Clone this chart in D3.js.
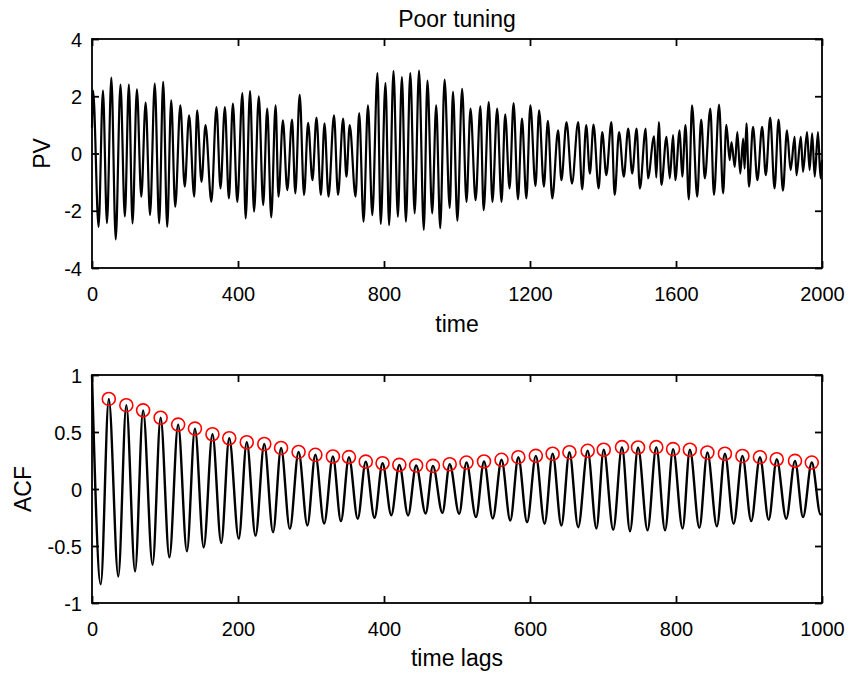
<!DOCTYPE html>
<html>
<head>
<meta charset="utf-8">
<script src="https://cdn.jsdelivr.net/npm/d3@7"></script>
<style>
  html, body { margin: 0; padding: 0; background: #fff; }
  svg { display: block; }
  text { font-family: "Liberation Sans", Arial, Helvetica, sans-serif; fill: #000; }
</style>
</head>
<body>
<svg id="chart" width="848" height="676"></svg>
<script>
// ---------- DATA ----------
const chartTitle = "Poor tuning";

// PV time series: successive local extrema (time, value)
const pvTimes = [0,3,18,30,41,53,65,78,90,101,111,123,135,147,159,172,184,195,206,217,228,242,254,266,280,288,300,311,327,341,352,364,375,386,398,412,421,433,444,457,469,480,491,503,511,523,535,548,557,569,581,592,604,615,627,637,648,663,674,688,697,706,722,732,744,756,768,782,791,804,814,826,838,849,860,872,884,896,909,919,932,943,954,966,980,989,1001,1014,1026,1037,1051,1064,1073,1087,1097,1110,1122,1132,1144,1155,1167,1178,1190,1201,1215,1225,1238,1249,1261,1277,1286,1300,1315,1332,1343,1354,1364,1374,1388,1398,1409,1423,1432,1444,1457,1469,1480,1492,1501,1517,1523,1540,1546,1553,1560,1574,1583,1592,1598,1610,1617,1626,1635,1644,1658,1669,1679,1694,1704,1718,1729,1738,1747,1752,1761,1768,1776,1784,1788,1793,1800,1811,1823,1836,1846,1858,1870,1881,1893,1904,1914,1925,1930,1942,1948,1959,1966,1973,1980,1989,1996,2000];
const pvValues = [0.9,2.2,-2.56,2.2,-2.43,2.65,-3.0,2.41,-2.2,2.41,-2.44,2.24,-1.51,1.78,-2.15,2.44,-2.44,2.5,-2.56,1.86,-1.86,1.68,-1.16,1.33,-1.51,1.51,-0.99,0.99,-1.69,1.62,-1.22,1.62,-1.57,1.74,-1.69,2.11,-2.27,2.18,-2.03,2.0,-1.8,1.57,-2.23,1.68,-1.51,1.16,-1.28,1.18,-1.39,2.05,-1.45,1.07,-0.93,1.25,-1.45,1.05,-1.51,1.33,-1.45,1.22,-0.81,0.99,-1.51,1.41,-2.38,1.68,-2.15,2.81,-2.46,2.46,-2.5,2.88,-2.21,2.67,-2.38,2.81,-2.09,2.9,-2.67,2.55,-2.09,1.68,-2.61,2.58,-1.9,2.15,-2.35,2.26,-1.69,1.57,-1.63,1.65,-1.98,1.8,-1.69,1.57,-1.69,1.37,-1.22,1.76,-1.6,1.22,-1.57,1.68,-1.14,1.51,-1.16,1.14,-1.57,0.81,-0.93,1.1,-1.05,1.1,-1.25,0.99,-0.7,1.01,-1.22,0.75,-0.76,1.1,-1.45,0.75,-0.81,0.87,-0.7,0.87,-1.22,0.87,-0.87,0.6,-0.84,1.1,-1.1,0.58,-0.87,0.64,-0.93,0.81,-0.81,0.99,-1.6,1.68,-1.51,1.18,-0.87,1.57,-1.45,1.71,-1.39,1.0,-0.23,0.4,-0.47,0.75,-0.7,0.52,-0.53,1.05,-1.16,0.93,-0.93,0.93,-0.76,1.25,-1.22,1.18,-1.3,0.81,-0.58,0.58,-0.76,0.58,-0.64,0.75,-0.58,0.7,-0.81,0.75,-0.87,-0.23];

// ACF: peaks (marked with red circles) and troughs
const acfPeakLags = [23,47,70,94,118,141,165,188,212,236,259,283,306,330,352,375,398,421,444,467,490,513,537,561,584,608,631,654,679,701,726,748,773,796,819,843,867,891,915,938,963,986];
const acfPeakValues = [0.79,0.735,0.69,0.625,0.565,0.53,0.48,0.445,0.41,0.395,0.36,0.325,0.30,0.285,0.28,0.24,0.226,0.212,0.206,0.203,0.217,0.232,0.241,0.256,0.279,0.291,0.309,0.323,0.335,0.344,0.367,0.364,0.367,0.35,0.344,0.32,0.309,0.29,0.279,0.261,0.247,0.232];
const acfTroughLags = [12,36,59,83,106,130,153,177,201,224,248,271,295,318,341,364,387,410,433,457,480,503,526,549,573,596,620,643,666,691,714,737,761,785,809,832,856,879,903,927,951,974,998];
const acfTroughValues = [-0.835,-0.767,-0.723,-0.664,-0.60,-0.547,-0.512,-0.473,-0.435,-0.409,-0.38,-0.35,-0.32,-0.303,-0.282,-0.262,-0.253,-0.23,-0.232,-0.215,-0.209,-0.218,-0.247,-0.259,-0.276,-0.291,-0.305,-0.32,-0.335,-0.347,-0.358,-0.37,-0.362,-0.362,-0.347,-0.341,-0.327,-0.305,-0.282,-0.27,-0.261,-0.247,-0.223];
const acfEnds = [[0, 1.0], [1000, -0.215]];

const pvTicksX = [0, 400, 800, 1200, 1600, 2000];
const pvTicksY = [-4, -2, 0, 2, 4];
const acfTicksX = [0, 200, 400, 600, 800, 1000];
const acfTicksY = [-1, -0.5, 0, 0.5, 1];

// ---------- DRAWING ----------
const svg = d3.select("#chart");
const L = 92, R = 822;

function panel(cfg) {
  const g = svg.append("g");
  const x = d3.scaleLinear().domain(cfg.xDomain).range([L, R]);
  const y = d3.scaleLinear().domain(cfg.yDomain).range([cfg.bottom, cfg.top]);
  const tickLen = 7;

  const fmt = d => String(d).replace("\u2212", "-");
  const ax = g.append("g").attr("transform", `translate(0,${cfg.bottom})`)
    .call(d3.axisBottom(x).tickValues(cfg.xTicks).tickSizeInner(-tickLen).tickSizeOuter(0).tickPadding(18).tickFormat(fmt));
  const axT = g.append("g").attr("transform", `translate(0,${cfg.top})`)
    .call(d3.axisTop(x).tickValues(cfg.xTicks).tickSizeInner(-tickLen).tickSizeOuter(0).tickFormat(""));
  const ay = g.append("g").attr("transform", `translate(${L},0)`)
    .call(d3.axisLeft(y).tickValues(cfg.yTicks).tickSizeInner(-tickLen).tickSizeOuter(0).tickPadding(10).tickFormat(fmt));
  const ayR = g.append("g").attr("transform", `translate(${R},0)`)
    .call(d3.axisRight(y).tickValues(cfg.yTicks).tickSizeInner(-tickLen).tickSizeOuter(0).tickFormat(""));

  [ax, axT, ay, ayR].forEach(a => {
    a.select(".domain").remove();
    a.selectAll("line").attr("stroke", "#000").attr("stroke-width", 1.8);
    a.selectAll("text").style("font-size", "20px").attr("fill", "#000")
      .style("font-family", '"Liberation Sans", Arial, sans-serif');
  });
  ax.selectAll("text").attr("dy", "0").attr("y", 33);
  ay.selectAll("text").attr("dy", "0.36em");

  g.append("path")
    .datum(cfg.points)
    .attr("fill", "none")
    .attr("stroke", "#000")
    .attr("stroke-width", cfg.lineWidth)
    .attr("stroke-linejoin", "round")
    .attr("d", d3.line().x(d => x(d[0])).y(d => y(d[1])).curve(d3.curveMonotoneX));

  if (cfg.markers) {
    g.selectAll("circle.mk").data(cfg.markers).join("circle")
      .attr("class", "mk")
      .attr("cx", d => x(d[0])).attr("cy", d => y(d[1]))
      .attr("r", 6.5)
      .attr("fill", "none").attr("stroke", "#ff0000").attr("stroke-width", 1.6);
  }

  g.append("rect").attr("x", L).attr("y", cfg.top)
    .attr("width", R - L).attr("height", cfg.bottom - cfg.top)
    .attr("fill", "none").attr("stroke", "#000").attr("stroke-width", 1.8);

  g.append("text").attr("x", (L + R) / 2).attr("y", cfg.xLabelY)
    .attr("text-anchor", "middle").style("font-size", "23px").text(cfg.xLabel);
  g.append("text").attr("transform", `translate(${cfg.yLabelX},${(cfg.top + cfg.bottom) / 2}) rotate(-90)`)
    .attr("text-anchor", "middle").style("font-size", "23px").text(cfg.yLabel);
  return { x, y };
}

const pvPoints = pvTimes.map((t, i) => [t, pvValues[i]]);
panel({
  xDomain: [0, 2000], yDomain: [-4, 4], top: 39, bottom: 268,
  xTicks: pvTicksX, yTicks: pvTicksY, lineWidth: 2.2,
  points: pvPoints, xLabel: "time", yLabel: "PV", xLabelY: 332, yLabelX: 50
});

const acfPoints = acfPeakLags.map((l, i) => [l, acfPeakValues[i]])
  .concat(acfTroughLags.map((l, i) => [l, acfTroughValues[i]]))
  .concat(acfEnds)
  .sort((a, b) => a[0] - b[0]);
panel({
  xDomain: [0, 1000], yDomain: [-1, 1], top: 375, bottom: 603,
  xTicks: acfTicksX, yTicks: acfTicksY, lineWidth: 2.4,
  points: acfPoints, markers: acfPeakLags.map((l, i) => [l, acfPeakValues[i]]),
  xLabel: "time lags", yLabel: "ACF", xLabelY: 666, yLabelX: 31
});

svg.append("text").attr("x", (L + R) / 2).attr("y", 27)
  .attr("text-anchor", "middle").style("font-size", "23px").text(chartTitle);
</script>
</body>
</html>
